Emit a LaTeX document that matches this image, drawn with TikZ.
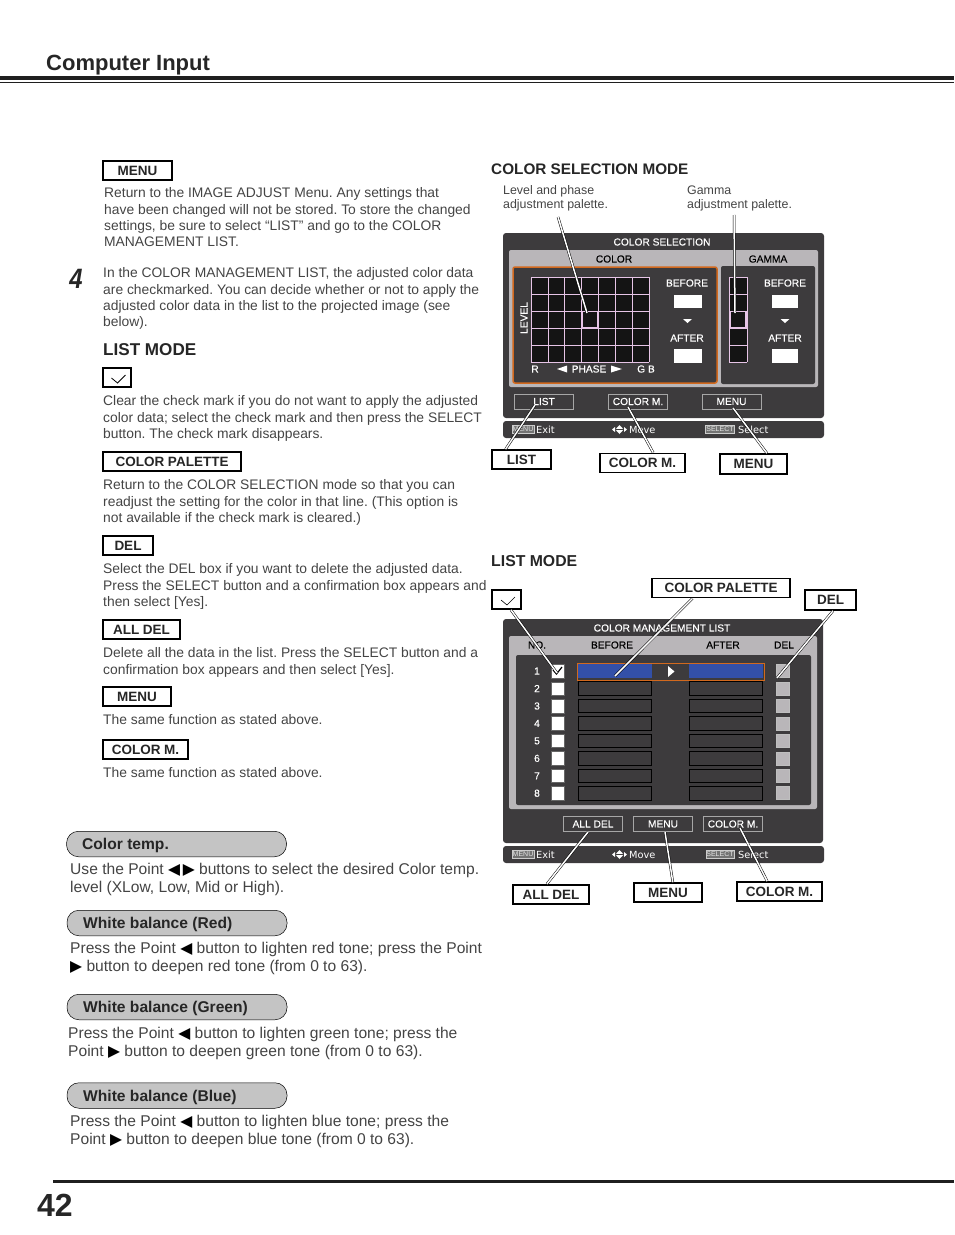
\documentclass[tikz,border=0pt]{standalone}
\usepackage{fontspec}
\usepackage{tikz}
\setmainfont{Liberation Sans}
\newfontfamily\symfont{DejaVu Sans}
\newfontfamily\osdfont[FakeBold=0.25]{Liberation Sans}
\frenchspacing
\definecolor{bodygray}{HTML}{444444}
\definecolor{osddark}{HTML}{3D3B3D}
\definecolor{osdstrip}{HTML}{B9B6B9}
\definecolor{osdorange}{HTML}{D2691E}
\definecolor{osdpink}{HTML}{E6C4E6}
\definecolor{osdblue}{HTML}{3350A8}
\definecolor{pillgray}{HTML}{C4C4C4}
\newcommand{\pointl}{{\color{black}\symfont\char"25C0}}
\newcommand{\pointr}{{\color{black}\symfont\char"25B6}}

\begin{document}
\begin{tikzpicture}[x=1pt, y=-1pt,
		body_style/.style={anchor=north west,align=left,inner sep=0pt,text=bodygray,font=\fontsize{13.85}{16.4}\selectfont},
		lower_style/.style={body_style,font=\fontsize{15.6}{17.5}\selectfont},
		note_style/.style={body_style,font=\fontsize{12.4}{14}\selectfont},
		head_style/.style={anchor=west,inner sep=0pt,text=black!85,font=\fontsize{16}{16}\selectfont\bfseries},
		label_style/.style={draw=black,line width=1.7pt,fill=white,inner sep=0pt,minimum height=19pt,text height=9.5pt,text depth=.5pt,text=black!85,font=\fontsize{13.5}{14}\selectfont\bfseries},
		pill_style/.style={draw=black,line width=.5pt,fill=pillgray,rounded corners=12pt,minimum width=220pt,minimum height=25.5pt,inner sep=0pt},
		pilltext_style/.style={anchor=west,inner sep=0pt,text=black!85,font=\fontsize{15.6}{15.6}\selectfont\bfseries},
		osd_style/.style={inner sep=0pt,text=white,font=\osdfont\fontsize{10.2}{10.2}\selectfont},
		osdblack_style/.style={osd_style,text=black},
		button_style/.style={draw=black!35,line width=.7pt,minimum width=59pt,minimum height=15pt,inner sep=0pt,text=white,font=\osdfont\fontsize{10.2}{10.2}\selectfont},
		key_style/.style={fill=black!55,draw=black!20,line width=.3pt,inner sep=0pt,text=black!10,font=\fontsize{7}{7}\selectfont},
		bar_style/.style={inner sep=0pt,text=white,font=\symfont\fontsize{9.8}{9.8}\selectfont},
		swatch_style/.style={fill=white,draw=none,minimum width=28pt,minimum height=13.5pt,inner sep=0pt},
		check_style/.style={draw=white!40!black,fill=white,line width=.4pt,minimum width=13.5pt,minimum height=13.5pt,inner sep=0pt},
		row_style/.style={draw=black,fill=osddark,line width=.8pt,minimum width=73pt,minimum height=13.5pt,inner sep=0pt},
		del_style/.style={draw=white!75!black,fill=osdstrip,line width=.6pt,minimum width=13pt,minimum height=13pt,inner sep=0pt},
		edge_style/.style={draw=black,line width=.5pt,double=white,double distance=1.5pt}]

		\useasboundingbox (0,0) rectangle (954,1235);

		% page furniture
		\node[anchor=west,inner sep=0pt,text=black!85,font=\fontsize{22}{22}\selectfont\bfseries] (title) at (46,65.5) {Computer Input};
		\fill[black!88] (0,76) rectangle (954,80);
		\fill[black!88] (0,82) rectangle (954,83);
		\fill[black!88] (53,1180) rectangle (954,1183);
		\node[anchor=west,inner sep=0pt,text=black!85,font=\fontsize{32}{32}\selectfont\bfseries] (pageno) at (37,1205) {42};
		\node[inner sep=0pt,xscale=.85,text=black!85,font=\fontsize{28}{28}\selectfont\bfseries\itshape] (step4) at (76,279) {4};

		% left column
		\node[label_style,minimum width=69pt] (l_menu) at (137.5,170.5) {MENU};
		\node[body_style] (p_menu) at (104,187.5) {Return to the IMAGE ADJUST Menu. Any settings that\\have been changed will not be stored. To store the changed\\settings, be sure to select “LIST” and go to the COLOR\\MANAGEMENT LIST.};
		\node[body_style] (p_four) at (103,267.5) {In the COLOR MANAGEMENT LIST, the adjusted color data\\are checkmarked. You can decide whether or not to apply the\\adjusted color data in the list to the projected image (see\\below).};
		\node[head_style,font=\fontsize{17.1}{17.1}\selectfont\bfseries] (h_list) at (103,350) {LIST MODE};
		\node[label_style,minimum width=28.5pt] (l_check) at (117,377.5) {};
		\draw[black,line width=.8pt] ([shift={(-5.5,.5)}]l_check.center) -- ([shift={(.5,5.5)}]l_check.center) -- ([shift={(8.5,-2.5)}]l_check.center);
		\node[body_style] (p_check) at (103,395.5) {Clear the check mark if you do not want to apply the adjusted\\color data; select the check mark and then press the SELECT\\button. The check mark disappears.};
		\node[label_style,minimum width=138.5pt] (l_palette) at (172,461.5) {COLOR PALETTE};
		\node[body_style] (p_palette) at (103,479.5) {Return to the COLOR SELECTION mode so that you can\\readjust the setting for the color in that line. (This option is\\not available if the check mark is cleared.)};
		\node[label_style,minimum width=50.5pt] (l_del) at (128,545.5) {DEL};
		\node[body_style] (p_del) at (103,563.5) {Select the DEL box if you want to delete the adjusted data.\\Press the SELECT button and a confirmation box appears and\\then select [Yes].};
		\node[label_style,minimum width=77.5pt] (l_alldel) at (141.5,629.5) {ALL DEL};
		\node[body_style] (p_alldel) at (103,647.5) {Delete all the data in the list. Press the SELECT button and a\\confirmation box appears and then select [Yes].};
		\node[label_style,minimum width=68.5pt] (l_menub) at (137,696.5) {MENU};
		\node[body_style] (p_menub) at (103,714.5) {The same function as stated above.};
		\node[label_style,minimum width=85.5pt] (l_colorm) at (145.5,749.5) {COLOR M.};
		\node[body_style] (p_colorm) at (103,767.5) {The same function as stated above.};

		% adjustment items
		\node[pill_style] (b_temp) at (176.5,844) {};
		\node[pilltext_style] (t_temp) at (82,845.5) {Color temp.};
		\node[lower_style] (p_temp) at (70,863) {Use the Point \pointl\,\pointr{} buttons to select the desired Color temp.\\level (XLow, Low, Mid or High).};
		\node[pill_style] (b_red) at (177,923) {};
		\node[pilltext_style] (t_red) at (83,924.5) {White balance (Red)};
		\node[lower_style] (p_red) at (70,942) {Press the Point \pointl{} button to lighten red tone; press the Point\\\pointr{} button to deepen red tone (from 0 to 63).};
		\node[pill_style] (b_green) at (177,1007) {};
		\node[pilltext_style] (t_green) at (83,1008.5) {White balance (Green)};
		\node[lower_style] (p_green) at (68,1027) {Press the Point \pointl{} button to lighten green tone; press the\\Point \pointr{} button to deepen green tone (from 0 to 63).};
		\node[pill_style] (b_blue) at (177,1095.5) {};
		\node[pilltext_style] (t_blue) at (83,1097) {White balance (Blue)};
		\node[lower_style] (p_blue) at (70,1115) {Press the Point \pointl{} button to lighten blue tone; press the\\Point \pointr{} button to deepen blue tone (from 0 to 63).};

		% colour selection palette
		\node[head_style,font=\fontsize{15.3}{15.3}\selectfont\bfseries] (h_sel) at (491,169) {COLOR SELECTION MODE};
		\node[note_style] (n_level) at (503,185.5) {Level and phase\\adjustment palette.};
		\node[note_style] (n_gamma) at (687,185.5) {Gamma\\adjustment palette.};

		\fill[osddark,rounded corners=3pt] (503,233) rectangle (824,418);
		\fill[osddark,rounded corners=3pt] (503,421) rectangle (824,438);
		\fill[osdstrip,rounded corners=2pt] (509,250) rectangle (818,387);
		\draw[osdorange,line width=1.5pt,fill=osddark,rounded corners=2pt] (513,267) rectangle (717,383);
		\fill[osddark,rounded corners=2pt] (721,266) rectangle (815,384);
		\node[osd_style] (s_title) at (662,242) {COLOR SELECTION};
		\node[osdblack_style] (s_color) at (614,259) {COLOR};
		\node[osdblack_style] (s_gamma) at (768,259) {GAMMA};

		\fill[black!92] (531,277) rectangle (649,362);
		\fill[black!92] (729,277) rectangle (747,362);
		\foreach \gx in {0,...,7}
			\draw[osdpink,line width=.6pt] (531+\gx*16.86,277) -- (531+\gx*16.86,362);
		\foreach \gy in {0,...,5}{
			\draw[osdpink,line width=.6pt] (531,277+\gy*17) -- (649,277+\gy*17);
			\draw[osdpink,line width=.6pt] (729,277+\gy*17) -- (747,277+\gy*17);
		}
		\draw[osdpink,line width=.6pt] (729,277) -- (729,362) (747,277) -- (747,362);
		\draw[osdpink,line width=1.8pt] (582.5,311.5) rectangle (597.5,327.5);
		\draw[osdpink,line width=1.8pt] (730,311.5) rectangle (746,327.5);

		\node[osd_style,rotate=90] (s_lev) at (524,318) {LEVEL};
		\node[osd_style] (s_r) at (535,369) {R};
		\node[osd_style] (s_phase) at (589,369) {PHASE};
		\fill[white] (557,369) -- (567,365.5) -- (567,372.5) -- cycle;
		\fill[white] (622,369) -- (611,365.5) -- (611,372.5) -- cycle;
		\node[osd_style] (s_gb) at (646,369) {G B};

		\node[osd_style] (s_b1) at (687,283) {BEFORE};
		\node[swatch_style] (s_w1) at (688,301.5) {};
		\fill[white] (683,319) -- (692,319) -- (687.5,323) -- cycle;
		\node[osd_style] (s_a1) at (687,338) {AFTER};
		\node[swatch_style] (s_w2) at (688,356) {};
		\node[osd_style] (s_b2) at (785,283) {BEFORE};
		\node[swatch_style,minimum width=26pt] (s_w3) at (785,301.5) {};
		\fill[white] (780.5,319) -- (789.5,319) -- (785,323) -- cycle;
		\node[osd_style] (s_a2) at (785,338) {AFTER};
		\node[swatch_style,minimum width=26pt] (s_w4) at (785,356) {};

		\node[button_style] (s_list) at (544,401.5) {LIST};
		\node[button_style] (s_colm) at (638,401.5) {COLOR M.};
		\node[button_style] (s_menu) at (731.5,401.5) {MENU};

		\node[key_style,minimum width=22pt,minimum height=8pt] (s_k1) at (523,429.5) {MENU};
		\node[bar_style,anchor=west] (s_exit) at (536,429.5) {Exit};
		\fill[white] (612,429.5) -- (615,427) -- (615,432) -- cycle (627,429.5) -- (624,427) -- (624,432) -- cycle;
		\fill[white] (619.5,425) -- (623,428.8) -- (616,428.8) -- cycle (619.5,434) -- (623,430.2) -- (616,430.2) -- cycle;
		\node[bar_style,anchor=west] (s_move) at (629,429.5) {Move};
		\node[key_style,minimum width=29pt,minimum height=8pt] (s_k2) at (720,429.5) {SELECT};
		\node[bar_style,anchor=west] (s_sel) at (738,429.5) {Select};

		\node[label_style,minimum width=59pt] (c_list) at (521.5,459.5) {LIST};
		\node[label_style,minimum width=85pt] (c_colorm) at (642.5,463) {COLOR M.};
		\node[label_style,minimum width=67pt,minimum height=20pt] (c_menu) at (753.5,464) {MENU};
		\coordinate (f_level) at (558,217);
		\coordinate (e_level) at (587,313);
		\coordinate (f_gamma) at (734,215);
		\coordinate (e_gamma) at (735,313);
		\coordinate (e_list) at (535,405);
		\coordinate (e_colorm) at (628,407);
		\coordinate (e_menu) at (733,408);

		% list mode palette
		\node[head_style,font=\fontsize{15.8}{15.8}\selectfont\bfseries] (h_lm) at (491,561) {LIST MODE};
		\fill[osddark,rounded corners=3pt] (503,619) rectangle (823,843);
		\fill[osddark,rounded corners=3pt] (503,846) rectangle (824,863);
		\fill[osdstrip,rounded corners=2pt] (509,636) rectangle (817,809);
		\fill[osddark,rounded corners=2pt] (516,655) rectangle (811,805);
		\node[osd_style] (m_title) at (662,628) {COLOR MANAGEMENT LIST};
		\node[osdblack_style] (m_no) at (537,645) {NO.};
		\node[osdblack_style] (m_before) at (612,645) {BEFORE};
		\node[osdblack_style] (m_after) at (723,645) {AFTER};
		\node[osdblack_style] (m_del) at (784,645) {DEL};

		\foreach \rw/\ry in {1/671,2/688.5,3/706,4/723.4,5/740.9,6/758.3,7/775.8,8/793.2}{
			\node[osd_style] (m_n\rw) at (537,\ry) {\rw};
			\node[check_style] (m_c\rw) at (557.5,\ry) {};
			\node[row_style] (m_l\rw) at (615,\ry) {};
			\node[row_style] (m_r\rw) at (726,\ry) {};
			\node[del_style] (m_d\rw) at (782.7,\ry) {};
		}
		\draw[osdorange,line width=.8pt] (577,663) rectangle (764,680);
		\fill[osdblue] (m_l1.north west) rectangle (m_l1.south east);
		\fill[osdblue] (m_r1.north west) rectangle (m_r1.south east);
		\fill[white] (668,666) -- (674.5,671.5) -- (668,677) -- cycle;
		\draw[black,line width=1.2pt] (553,670) -- (556.5,674) -- (562,667);

		\node[button_style] (m_alldel) at (593,824) {ALL DEL};
		\node[button_style] (m_menu) at (663,824) {MENU};
		\node[button_style] (m_colm) at (733,824) {COLOR M.};

		\node[key_style,minimum width=22pt,minimum height=8pt] (m_k1) at (523,854.5) {MENU};
		\node[bar_style,anchor=west] (m_exit) at (536,854.5) {Exit};
		\fill[white] (612,854.5) -- (615,852) -- (615,857) -- cycle (627,854.5) -- (624,852) -- (624,857) -- cycle;
		\fill[white] (619.5,850) -- (623,853.8) -- (616,853.8) -- cycle (619.5,859) -- (623,855.2) -- (616,855.2) -- cycle;
		\node[bar_style,anchor=west] (m_move) at (629,854.5) {Move};
		\node[key_style,minimum width=28pt,minimum height=8pt] (m_k2) at (720,854.5) {SELECT};
		\node[bar_style,anchor=west] (m_sel) at (738,854.5) {Select};

		\node[label_style,minimum width=29pt] (d_check) at (506.5,599.5) {};
		\draw[black,line width=.6pt] ([shift={(-5.5,.5)}]d_check.center) -- ([shift={(.5,5.5)}]d_check.center) -- ([shift={(8.5,-2.5)}]d_check.center);
		\node[label_style,minimum width=138.5pt] (d_palette) at (721,588) {COLOR PALETTE};
		\node[label_style,minimum width=51pt,minimum height=20pt] (d_del) at (830.5,600) {DEL};
		\node[label_style,minimum width=76.5pt,minimum height=19.5pt] (d_alldel) at (551,894.5) {ALL DEL};
		\node[label_style,minimum width=68.5pt] (d_menu) at (668,892.5) {MENU};
		\node[label_style,minimum width=85.5pt] (d_colorm) at (779.5,891.5) {COLOR M.};
		\coordinate (e_check) at (557,673);
		\coordinate (e_palette) at (615,676);
		\coordinate (e_del) at (777,678);
		\coordinate (e_alldel) at (588,832);
		\coordinate (e_mmenu) at (665,832);
		\coordinate (e_mcolorm) at (740,828);

		% leaders
		\draw[edge_style] (f_level) -- (e_level);
		\draw[edge_style] (f_gamma) -- (e_gamma);
		\draw[edge_style] (c_list.147) -- (e_list);
		\draw[edge_style] (c_colorm.44) -- (e_colorm);
		\draw[edge_style] (c_menu.39) -- (e_menu);
		\draw[edge_style] (d_check.-67) -- (e_check);
		\draw[edge_style] (d_palette.200) -- (e_palette);
		\draw[edge_style] (d_del.283) -- (e_del);
		\draw[edge_style] (d_alldel.111) -- (e_alldel);
		\draw[edge_style] (d_menu.65) -- (e_mmenu);
		\draw[edge_style] (d_colorm.140) -- (e_mcolorm);
\end{tikzpicture}
\end{document}
